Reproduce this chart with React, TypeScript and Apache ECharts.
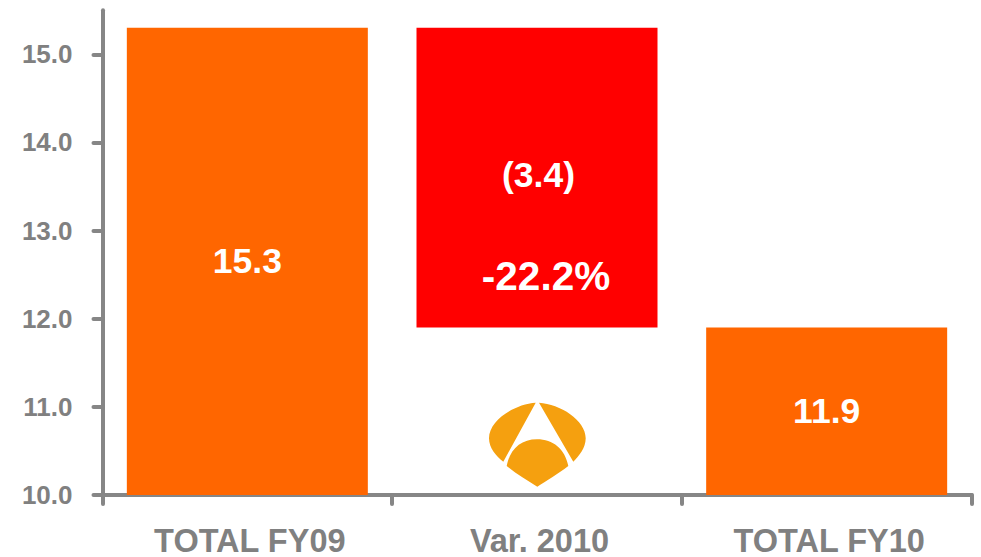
import React, { useEffect, useRef } from "react";
import * as echarts from "echarts";

const categories = ["TOTAL FY09", "Var. 2010", "TOTAL FY10"];
const barBase = [0, 11.9, 0];
const barValues = [15.3, 3.4, 11.9];
const barColors = ["#FF6600", "#FF0000", "#FF6600"];
const barLabels = ["15.3", "", "11.9"];
const noteLabels = ["(3.4)", "-22.2%"];
const noteHeights = [13.63, 12.48];
const yTicks = [10, 11, 12, 13, 14, 15];

const logoPath =
  "M535.7 402.7C515 404 489 420 489 438.3C489 448 496 456 503.3 461.7Z" +
  "M539 402.7C560 404 585.7 420 585.7 438.3C585.7 448 579 456 573.3 461.7Z" +
  "M506.7 466C510 449 521 439.3 537 439.3C553 439.3 565 449 568.3 466C558 474 546 481 537.3 486.7C528 481 516 474 506.7 466Z";
echarts.graphic.registerShape("logo", echarts.graphic.extendPath(logoPath, {}) as any);

const AXIS = "#868686";
const TEXT = "#808080";
const FONT = "'Liberation Sans', Arial, sans-serif";
const noteSizes = [35.5, 40.5];
const noteShifts = [[1.5, 0], [9, 0]];

export default function App() {
  const ref = useRef<HTMLDivElement>(null);
  useEffect(() => {
    document.body.style.margin = "0";
    const chart = echarts.init(ref.current!, null, { renderer: "svg" });
    chart.setOption({
      animation: false,
      backgroundColor: "#FFFFFF",
      grid: { left: 102.5, right: 9.5, top: 10.2, bottom: 62 },
      xAxis: {
        type: "category",
        data: categories,
        axisLine: { lineStyle: { color: AXIS, width: 4, cap: "round" } },
        axisTick: { show: true, length: 9, lineStyle: { color: AXIS, width: 4, cap: "round" } },
        axisLabel: {
          color: TEXT,
          fontFamily: FONT,
          fontWeight: "bold",
          fontSize: 32.5,
          margin: 29,
          interval: 0,
          padding: [0, 0, 0, 5],
        },
      },
      yAxis: {
        type: "value",
        min: 10,
        max: 15.5,
        interval: 1,
        splitLine: { show: false },
        axisLine: { show: true, lineStyle: { color: AXIS, width: 4, cap: "round" } },
        axisTick: { show: true, length: 9, customValues: yTicks, lineStyle: { color: AXIS, width: 4, cap: "round" } },
        axisLabel: {
          color: TEXT,
          fontFamily: FONT,
          fontWeight: "bold",
          fontSize: 26,
          margin: 30,
          customValues: yTicks,
          formatter: (v: number) => v.toFixed(1),
        },
      },
      series: [
        {
          type: "bar",
          stack: "total",
          barWidth: 241,
          data: barBase,
          itemStyle: { color: "transparent" },
          silent: true,
        },
        {
          type: "bar",
          stack: "total",
          barWidth: 241,
          data: barValues.map((v, i) => ({
            value: v,
            itemStyle: { color: barColors[i] },
            label: {
              show: barLabels[i] !== "",
              formatter: barLabels[i],
              position: "inside",
              color: "#FFFFFF",
              fontFamily: FONT,
              fontWeight: "bold",
              fontSize: 35.5,
            },
          })),
        },
        {
          type: "scatter",
          symbolSize: 1,
          itemStyle: { color: "rgba(0,0,0,0)", opacity: 1 },
          z: 5,
          data: noteLabels.map((text, i) => ({
            value: [categories[1], noteHeights[i]],
            label: {
              show: true,
              position: "inside",
              formatter: text,
              offset: noteShifts[i],
              color: "#FFFFFF",
              opacity: 1,
              fontFamily: FONT,
              fontWeight: "bold",
              fontSize: noteSizes[i],
            },
          })),
        },
      ],
      graphic: [
        {
          type: "logo",
          x: 0,
          y: 0,
          z: 10,
          style: { fill: "#F5A00F" },
        },
      ],
    });
    return () => chart.dispose();
  }, []);
  return <div ref={ref} style={{ width: 981, height: 557 }} />;
}
